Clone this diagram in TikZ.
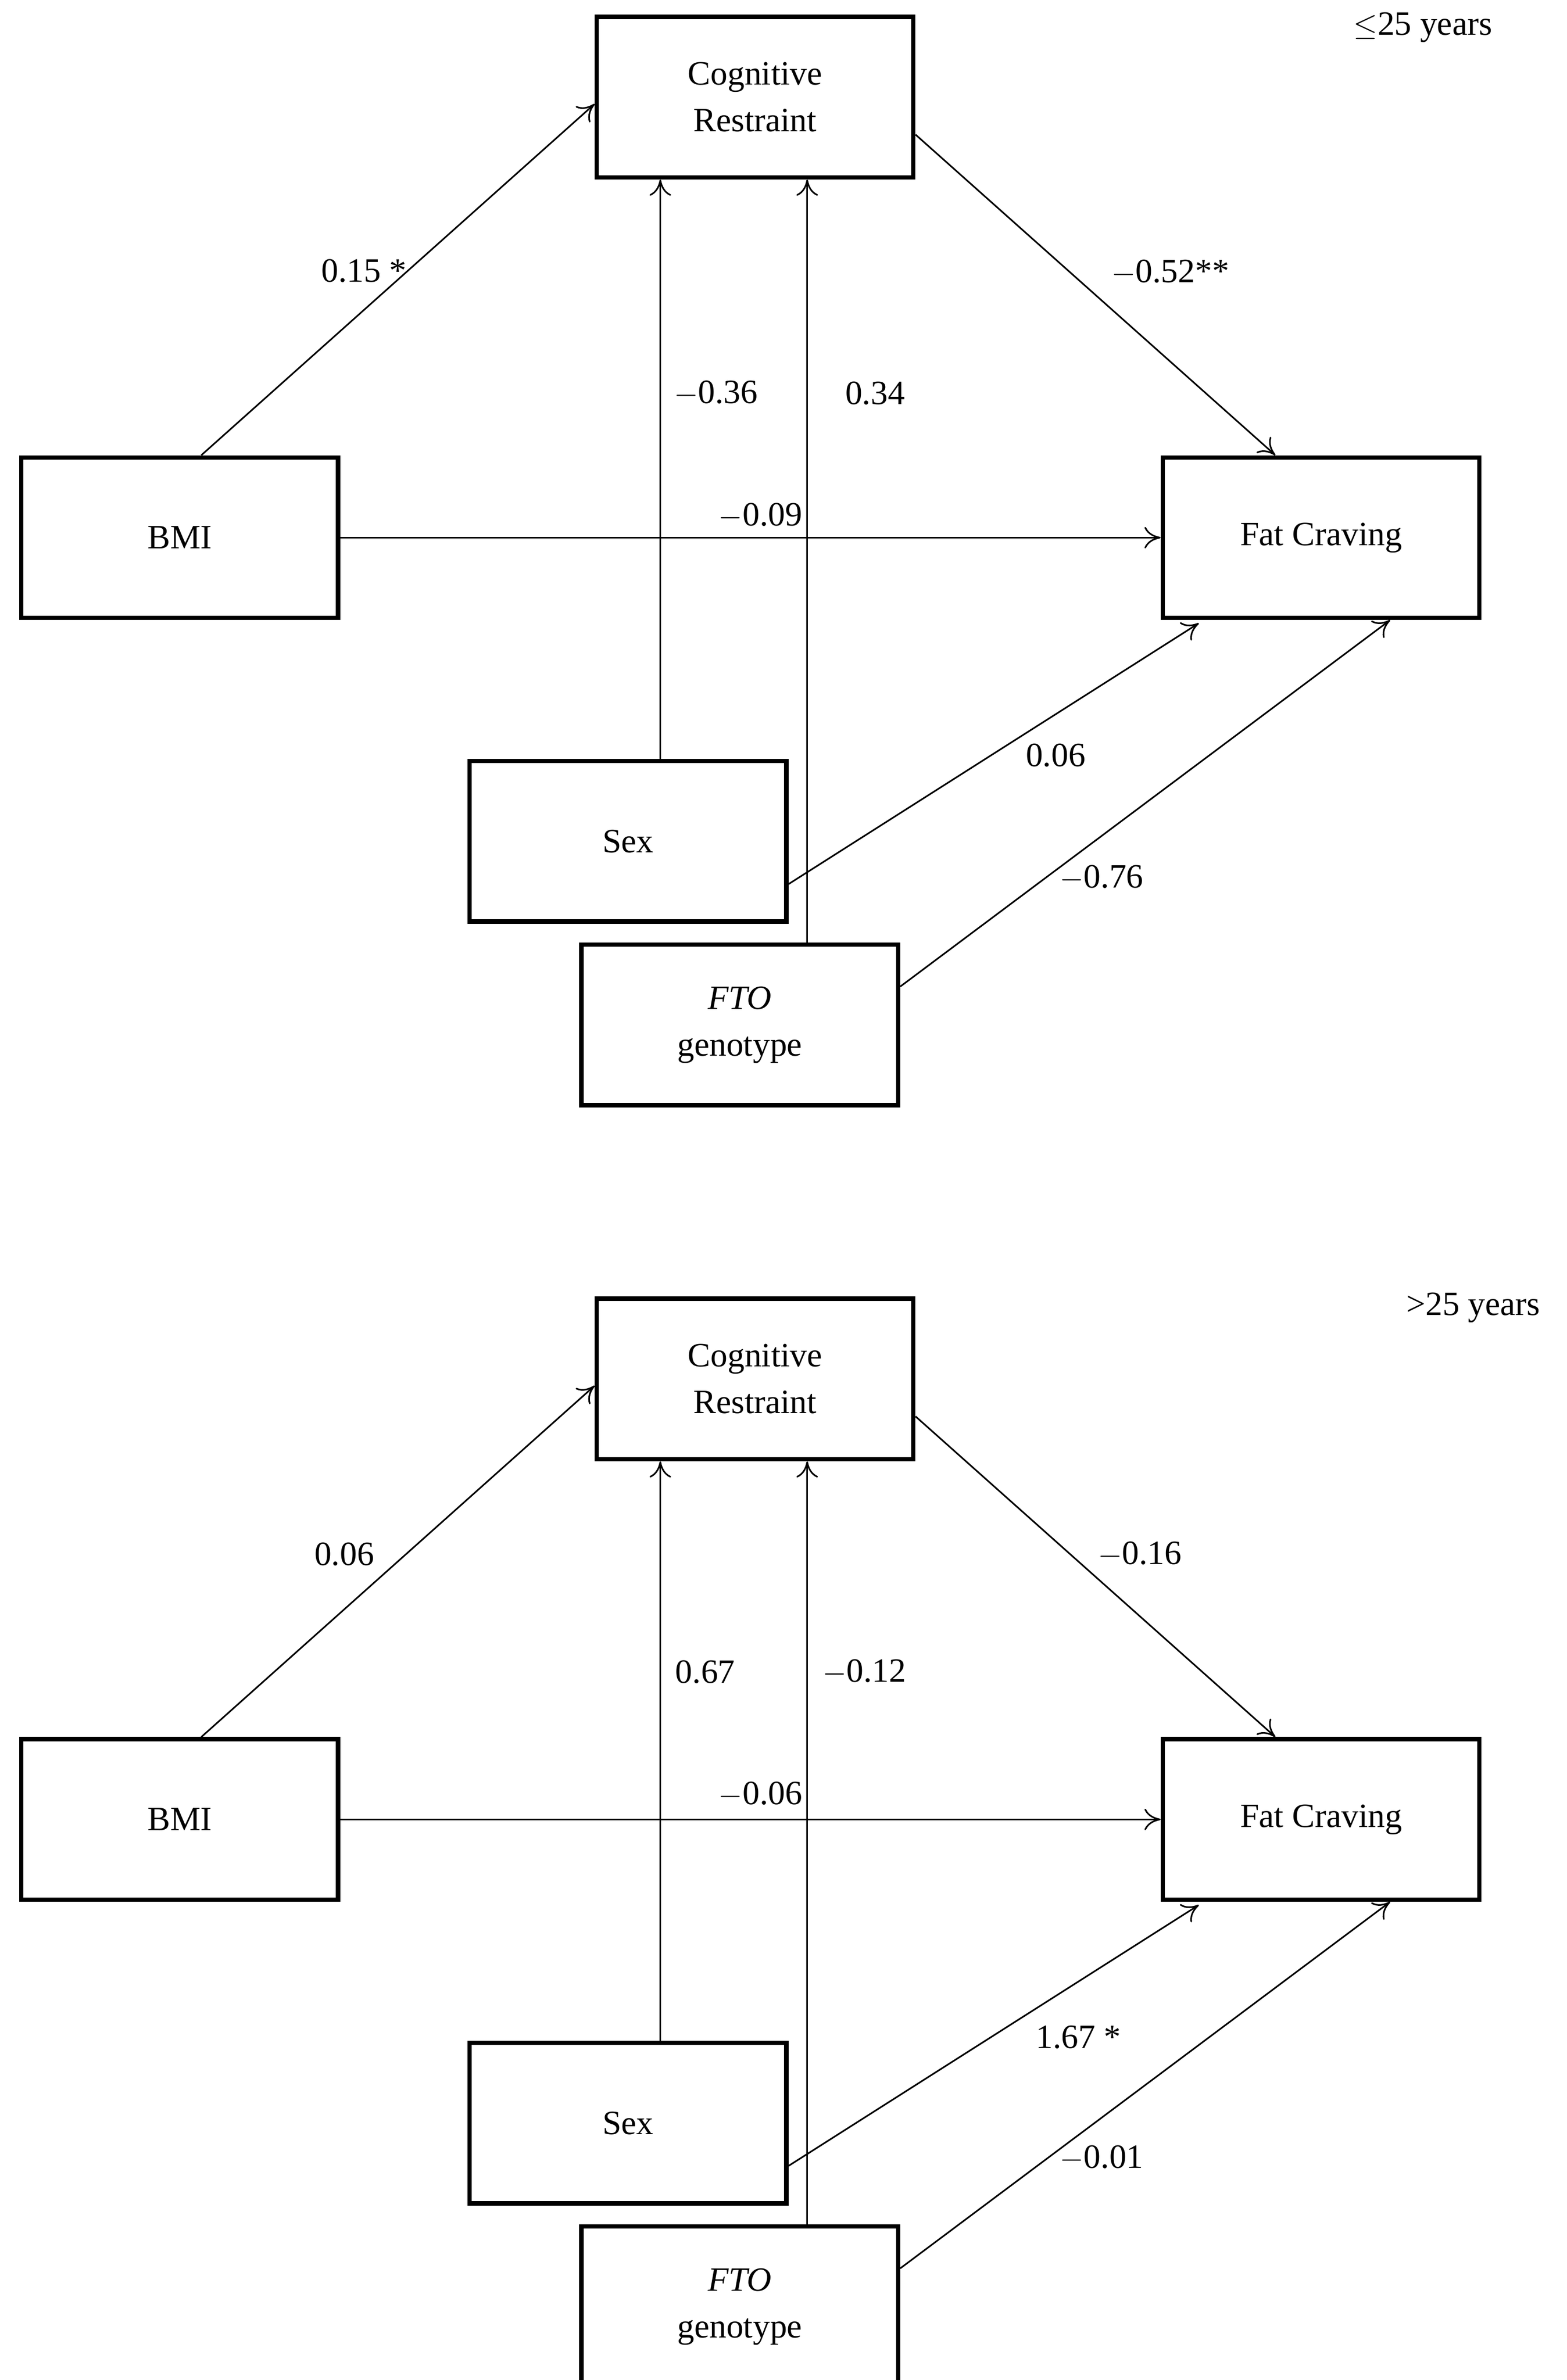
\documentclass[tikz,border=0pt]{standalone}
\usepackage{fontspec}
\setmainfont{Liberation Serif}
\usetikzlibrary{arrows.meta,calc}
\begin{document}
\begin{tikzpicture}[x=0.03cm,y=-0.03cm,
  box/.style={draw,line width=2.4pt,minimum width=207*0.03cm,minimum height=105*0.03cm,align=center,font=\fontsize{19}{26}\selectfont,inner sep=0pt},
  arr/.style={-{To[length=9pt,width=12pt]},line width=0.9pt},
  lab/.style={font=\fontsize{19}{22}\selectfont,inner sep=0pt}]
\useasboundingbox (0,0) rectangle (1024,1556);
\foreach \p/\o in {a/0,b/838}{
\begin{scope}[yshift=-\o*0.03cm]
\node[box] (CR\p) at (493.5,63.5) {Cognitive\\Restraint};
\node[box] (BMI\p) at (117.5,351.5) {BMI};
\node[box] (FC\p) at (863.5,351.5) {Fat Craving};
\node[box] (Sex\p) at (410.5,550) {Sex};
\node[box] (FTO\p) at (483.5,670) {\textit{FTO}\\genotype};
\draw[arr] ($(BMI\p.north west)+(119,0)$) -- ($(CR\p.west)+(0,4.5)$);
\draw[arr] ($(CR\p.east)+(0,24.5)$) -- ($(FC\p.north west)+(75,0)$);
\draw[arr] (BMI\p.east) -- (FC\p.west);
\draw[arr] ($(Sex\p.north west)+(126,0)$) -- ($(CR\p.south west)+(43,0)$);
\draw[arr] ($(FTO\p.north west)+(149,0)$) -- ($(CR\p.south west)+(139,0)$);
\draw[arr] ($(Sex\p.east)+(0,28)$) -- ($(FC\p.south west)+(25,2)$);
\draw[arr] ($(FTO\p.east)+(0,-25)$) -- ($(FC\p.south west)+(150,0)$);
\end{scope}}
\node[lab] (l1) at (238,177) {0.15 *};
\node[lab] (l2) at (765,178) {$-$0.52**};
\node[lab] (l3) at (468,257) {$-$0.36};
\node[lab] (l4) at (572,257) {0.34};
\node[lab] (l5) at (497,337) {$-$0.09};
\node[lab] (l6) at (690,494) {0.06};
\node[lab] (l7) at (720,574) {$-$0.76};
\node[lab] (l8) at (930,18) {$\leq$25 years};
\node[lab] (m1) at (225,1016) {0.06};
\node[lab] (m2) at (745,1016) {$-$0.16};
\node[lab] (m3) at (461,1093) {0.67};
\node[lab] (m4) at (565,1093) {$-$0.12};
\node[lab] (m5) at (497,1173) {$-$0.06};
\node[lab] (m6) at (705,1332) {1.67 *};
\node[lab] (m7) at (720,1411) {$-$0.01};
\node[lab] (m8) at (963,855) {>25 years};
\end{tikzpicture}
\end{document}
